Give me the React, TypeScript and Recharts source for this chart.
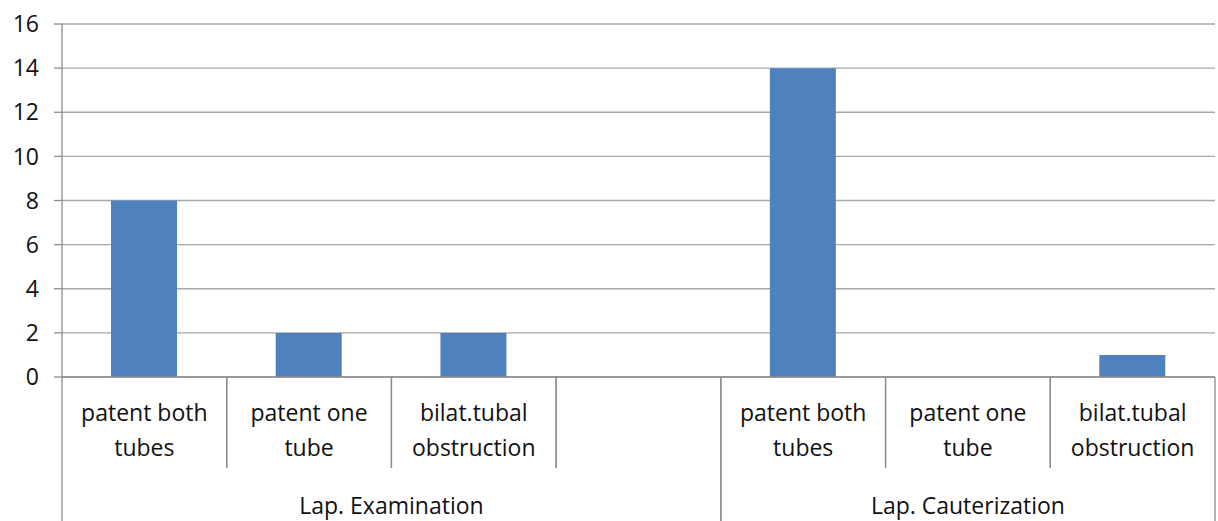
import * as React from "react";
import { BarChart, Bar, XAxis, YAxis, CartesianGrid } from "recharts";

const categories = [
    "patent both\ntubes",
    "patent one\ntube",
    "bilat.tubal\nobstruction",
    "",
    "patent both\ntubes",
    "patent one\ntube",
    "bilat.tubal\nobstruction",
];
const values: (number | null)[] = [8, 2, 2, null, 14, 0, 1];
const groups = [
    { label: "Lap. Examination", start: 0, count: 4 },
    { label: "Lap. Cauterization", start: 4, count: 3 },
];
const yTicks = [0, 2, 4, 6, 8, 10, 12, 14, 16];

const data = categories.map((c, i) => ({ key: `c${i}`, label: c, value: values[i] }));

const FONT = "'Open Sans', sans-serif";
const AXIS = "#8c8c8c";
const GRID = "#a8a8a8";
const TEXT = "#111";

function CategoryTick(props: any) {
    const { x, y, payload, index } = props;
    const half = payload?.offset ?? 82.3;
    const band = half * 2;
    const lines = (data[index]?.label ?? "").split("\n");
    const starts = groups.map((g) => g.start);
    const isGroupEdgeRight = groups.some((g) => g.start + g.count - 1 === index);
    const group = groups.find((g) => g.start === index);
    return (
        <g>
            {lines.map((l, i) =>
                l ? (
                    <text
                        key={i}
                        x={x}
                        y={y + 44 + i * 35}
                        textAnchor="middle"
                        fontFamily={FONT}
                        fontSize={23}
                        fill={TEXT}
                    >
                        {l}
                    </text>
                ) : null
            )}
            <line
                x1={x - half}
                x2={x - half}
                y1={y}
                y2={y + (starts.includes(index) ? 144 : 91)}
                stroke={AXIS}
                strokeWidth={1.3}
            />
            <line
                x1={x + half}
                x2={x + half}
                y1={y}
                y2={y + (isGroupEdgeRight ? 144 : 91)}
                stroke={AXIS}
                strokeWidth={1.3}
            />
            {group && (
                <text
                    x={x - half + (group.count * band) / 2}
                    y={y + 137}
                    textAnchor="middle"
                    fontFamily={FONT}
                    fontSize={23}
                    fill={TEXT}
                >
                    {group.label}
                </text>
            )}
        </g>
    );
}

export default function App() {
    return (
        <div style={{ position: "absolute", left: 0, top: 0, background: "#fff" }}>
            <BarChart
                width={1218}
                height={521}
                data={data}
                margin={{ top: 24, right: 3, left: 0, bottom: 0 }}
                barCategoryGap={0}
            >
                <CartesianGrid vertical={false} stroke={GRID} strokeWidth={1.3} />
                <XAxis
                    dataKey="key"
                    height={144}
                    interval={0}
                    tickLine={false}
                    tickSize={0}
                    tickMargin={0}
                    axisLine={{ stroke: AXIS, strokeWidth: 1.3 }}
                    tick={<CategoryTick />}
                />
                <YAxis
                    width={62}
                    domain={[0, 16]}
                    ticks={yTicks}
                    interval={0}
                    tickSize={8}
                    tickMargin={15}
                    tickLine={{ stroke: AXIS, strokeWidth: 1.3 }}
                    axisLine={{ stroke: AXIS, strokeWidth: 1.3 }}
                    tick={{ fontFamily: FONT, fontSize: 23, fill: TEXT }}
                />
                <Bar dataKey="value" fill="#4f81bd" barSize={66} isAnimationActive={false} />
            </BarChart>
        </div>
    );
}
